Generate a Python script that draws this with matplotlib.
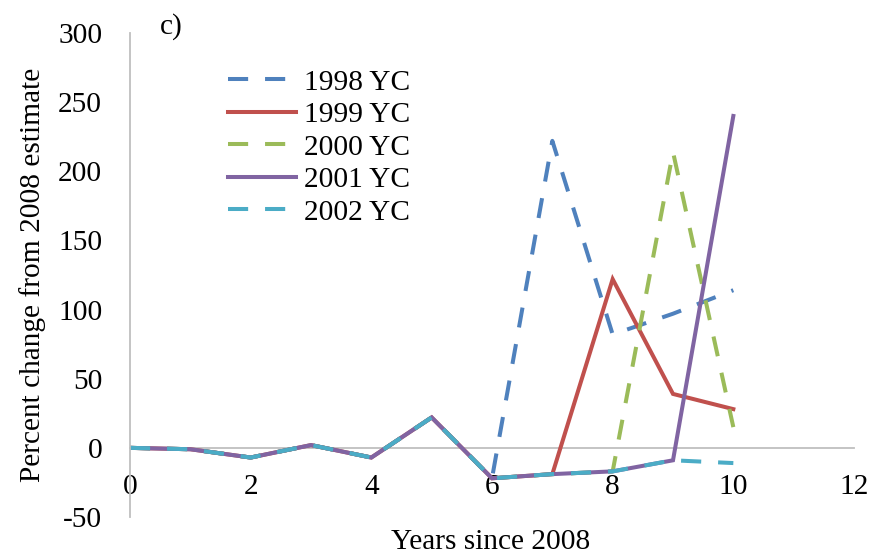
import matplotlib
matplotlib.use("Agg")
import matplotlib.pyplot as plt

years = [0, 1, 2, 3, 4, 5, 6, 7, 8, 9, 10]
yc1998 = [0, -1, -7, 2, -7, 22, -22, 222, 82, 97, 114]
yc1999 = [0, -1, -7, 2, -7, 22, -22, -19, 122, 39, 28]
yc2000 = [0, -1, -7, 2, -7, 22, -22, -19, -17, 214, 15]
yc2001 = [0, -1, -7, 2, -7, 22, -22, -19, -17, -9, 240]
yc2002 = [0, -1, -7, 2, -7, 22, -22, -19, -17, -9, -11]
labels = ["1998 YC", "1999 YC", "2000 YC", "2001 YC", "2002 YC"]
xticks = [0, 2, 4, 6, 8, 10, 12]
yticks = [-50, 0, 50, 100, 150, 200, 250, 300]

plt.rcParams['font.family'] = ['Liberation Serif', 'DejaVu Serif']
FS = 21.2

W, H = 880, 554
fig = plt.figure(figsize=(W / 100, H / 100), dpi=100)
ax = fig.add_axes([130 / W, 1 - 517 / H, (854 - 130) / W, (517 - 33) / H])

for s in ['top', 'right']:
    ax.spines[s].set_visible(False)
ax.spines['bottom'].set_position(('data', 0))
ax.spines['bottom'].set_color('#BFBFBF')
ax.spines['left'].set_color('#BFBFBF')
ax.spines['bottom'].set_linewidth(1.3)
ax.spines['left'].set_linewidth(1.3)
ax.spines['bottom'].set_zorder(0.5)

lw = 2.9
series = [yc1998, yc1999, yc2000, yc2001, yc2002]
colors = ['#4F81BD', '#C0504D', '#9BBB59', '#8064A2', '#4BACC6']
styles = ['dash', 'solid', 'dash', 'solid', 'dash']
for ys, c, st, lab in zip(series, colors, styles, labels):
    line, = ax.plot(years, ys, color=c, lw=lw, label=lab, solid_joinstyle='miter')
    if st == 'dash':
        line.set_dashes((5, 4.2))

ax.set_xlim(0, 12)
ax.set_ylim(-50, 300)
ax.set_xticks(xticks)
ax.set_yticks(yticks)
ax.set_xticklabels([str(t) for t in xticks])
ax.set_yticklabels([str(t) for t in yticks])
ax.tick_params(axis='both', length=0, labelsize=FS)
ax.tick_params(axis='x', pad=19)
ax.tick_params(axis='y', pad=20)

ax.set_ylabel('Percent change from 2008 estimate', fontsize=FS)
ax.yaxis.set_label_coords(-0.116, 0.5)
fig.text(491 / W, 1 - 542 / H, 'Years since 2008', fontsize=FS, ha='center', va='center')
fig.text(160 / W, 1 - 27 / H, 'c)', fontsize=FS, ha='left', va='center')

leg = ax.legend(loc='upper left', bbox_to_anchor=(228 / W, 1 - 69 / H),
                bbox_transform=fig.transFigure, frameon=False, fontsize=FS,
                borderpad=0, borderaxespad=0, handlelength=2.3, handletextpad=0.27,
                labelspacing=0.2)

fig.savefig('out.png', dpi=100)
